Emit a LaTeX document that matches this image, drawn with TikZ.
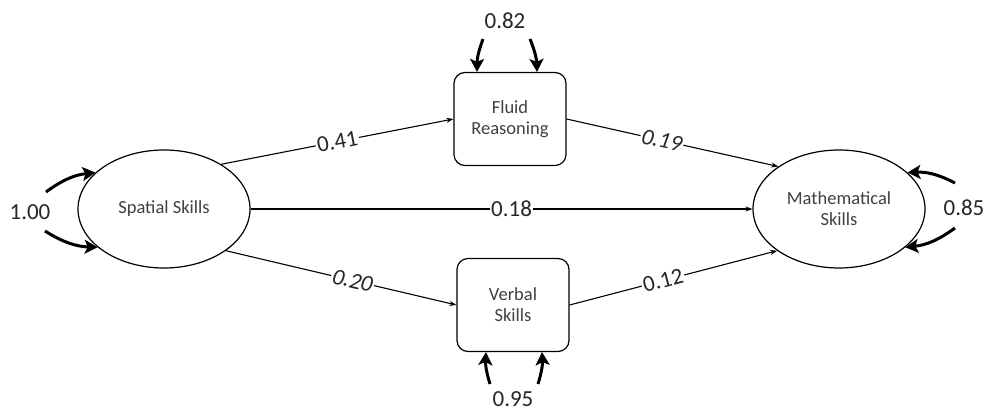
\documentclass[tikz,border=0pt]{standalone}
\usepackage{fontspec}
\setmainfont{Carlito}
\usetikzlibrary{shapes.geometric,arrows.meta}
\begin{document}
\begin{tikzpicture}[x=1pt,y=-1pt,
  latent/.style={ellipse,draw,line width=1.2pt,minimum width=172pt,minimum height=118pt,inner sep=0pt,
     font=\fontsize{18.5}{21}\selectfont,align=center,text=black!75},
  obsbox/.style={rectangle,rounded corners=11pt,draw,line width=1.2pt,minimum width=112pt,minimum height=93pt,
     inner sep=0pt,font=\fontsize{18.5}{21}\selectfont,align=center,text=black!75},
  path/.style={line width=1.1pt,-{Stealth[length=7pt,width=5pt]}},
  coef/.style={fill=white,inner sep=1.5pt,font=\fontsize{23}{25}\selectfont,sloped,text=black!85},
  coefi/.style={coef,font=\fontsize{23}{25}\selectfont\itshape},
  varr/.style={line width=3pt,-{Stealth[length=13pt,width=14pt,inset=3pt]}},
  vlab/.style={font=\fontsize{23}{25}\selectfont,text=black!85,inner sep=0pt}]
\useasboundingbox (0,0) rectangle (987,411);
\node[latent] (sp) at (164,209) {Spatial Skills};
\node[latent] (ma) at (839,209) {Mathematical\\Skills};
\node[obsbox] (fl) at (510,119) {Fluid\\Reasoning};
\node[obsbox] (vb) at (513,305) {Verbal\\Skills};
% paths
\draw[path] (sp.38) -- node[coef,pos=0.5] {0.41} (fl.west);
\draw[path] (sp.east) -- node[coef,pos=0.52] {0.18} (ma.west);
\draw[path] (sp.-34) -- node[coefi,pos=0.55] {0.20} (vb.west);
\draw[path] (fl.east) -- node[coefi,pos=0.45] {0.19} (ma.145);
\draw[path] (vb.east) -- node[coef,pos=0.45] {0.12} (ma.214);
% variances
\node[vlab] (vfl) at (505,21) {0.82};
\coordinate (fl1) at (483,39);
\coordinate (fl2) at (530,39);
\draw[varr] (fl1) to[bend right=10] (fl.north west -| 477,0);
\draw[varr] (fl2) to[bend left=10] (fl.north east -| 537,0);
\node[vlab] (vvb) at (513,399) {0.95};
\coordinate (vb1) at (490,384);
\coordinate (vb2) at (538,384);
\draw[varr] (vb1) to[bend left=10] (vb.south west -| 486,0);
\draw[varr] (vb2) to[bend right=10] (vb.south east -| 542,0);
\node[vlab] (vsp) at (30,212) {1.00};
\coordinate (sp1) at (46,192);
\coordinate (sp2) at (45,231);
\draw[varr] (sp1) to[bend left=15] (sp.152);
\draw[varr] (sp2) to[bend right=15] (sp.-150);
\node[vlab] (vma) at (964,208) {0.85};
\coordinate (ma1) at (955,183);
\coordinate (ma2) at (955,228);
\draw[varr] (ma1) to[bend right=15] (ma.28);
\draw[varr] (ma2) to[bend left=15] (ma.-30);
\end{tikzpicture}
\end{document}
